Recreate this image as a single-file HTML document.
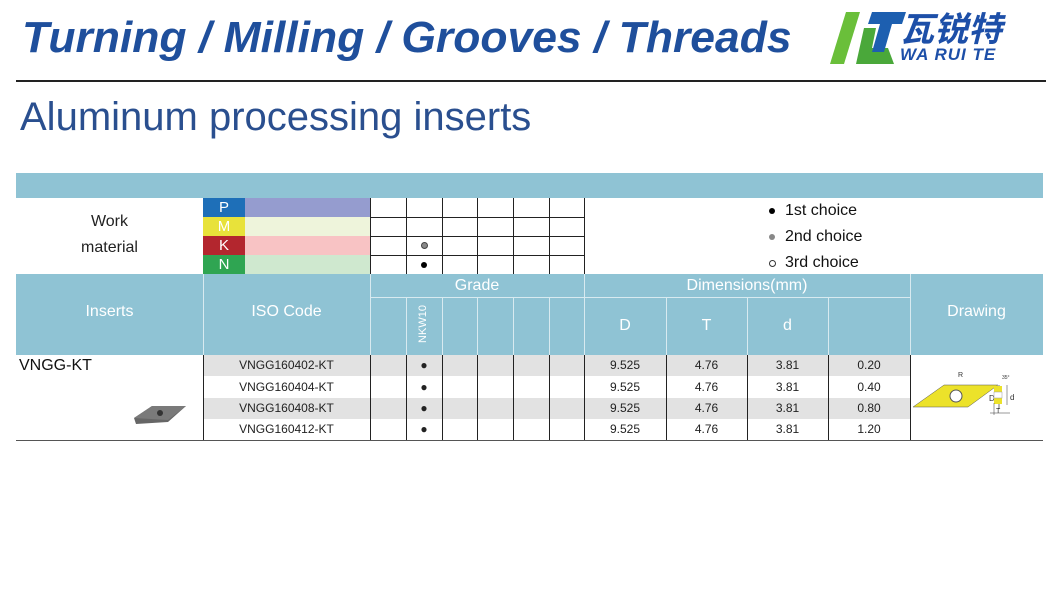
<!DOCTYPE html>
<html><head><style>
body{margin:0;width:1060px;height:600px;background:#fff;position:relative;overflow:hidden;font-family:"Liberation Sans",sans-serif}
.a{position:absolute}
.t{position:absolute;text-align:center;font-size:12px;color:#222}
.w{color:#fff;font-size:16px}
.hl{position:absolute;background:#222;height:1px}
.vl{position:absolute;background:#222;width:1px}
.wl{position:absolute;background:#d8eaf0}
.lg div{height:26px;line-height:26px;white-space:nowrap}
</style></head><body>
<div class="a" style="left:22px;top:13px;font-size:44px;font-weight:bold;font-style:italic;color:#1f4f9c;white-space:nowrap;transform:scaleX(1.01);transform-origin:left">Turning / Milling / Grooves / Threads</div>
<!-- logo -->
<svg class="a" style="left:828px;top:10px" width="80" height="56"><polygon points="18,2 32,2 16,54 2,54" fill="#6abf3a"/><polygon points="36,18 48,18 44,38 60,38 66,54 28,54" fill="#4aa83a"/><polygon points="44,2 78,2 74,14 64,14 56,42 44,42 52,14 40,14" fill="#1d5fb0"/></svg>
<div class="a" style="left:900px;top:6px;font-size:34px;font-weight:bold;font-style:italic;color:#1d4fa8;font-family:'Noto Sans CJK SC',sans-serif;line-height:42px">瓦锐特</div>
<div class="a" style="left:900px;top:45px;font-size:17px;font-weight:bold;font-style:italic;color:#1d4fa8;letter-spacing:1px">WA RUI TE</div>
<div class="a" style="left:16px;top:80px;width:1030px;height:2px;background:#222"></div>
<div class="a" style="left:20px;top:95px;font-size:40px;color:#2a4f8f;white-space:nowrap">Aluminum processing inserts</div>

<!-- table -->
<div class="a" style="left:16px;top:173px;width:1027px;height:25px;background:#8fc3d4"></div>
<div class="t" style="left:16px;top:209px;width:187px;font-size:16px;line-height:26px">Work<br>material</div>
<div class="a" style="left:203px;top:198px;width:42px;height:19px;background:#1e6fb8"></div>
<div class="a" style="left:203px;top:217px;width:42px;height:19px;background:#e8e23a"></div>
<div class="a" style="left:203px;top:236px;width:42px;height:19px;background:#b3262e"></div>
<div class="a" style="left:203px;top:255px;width:42px;height:19px;background:#2fa552"></div>
<div class="t w" style="left:203px;top:199px;width:42px;font-size:15px">P</div>
<div class="t w" style="left:203px;top:218px;width:42px;font-size:15px">M</div>
<div class="t w" style="left:203px;top:237px;width:42px;font-size:15px">K</div>
<div class="t w" style="left:203px;top:256px;width:42px;font-size:15px">N</div>
<div class="a" style="left:245px;top:198px;width:125px;height:19px;background:#959ccf"></div>
<div class="a" style="left:245px;top:217px;width:125px;height:19px;background:#eef4db"></div>
<div class="a" style="left:245px;top:236px;width:125px;height:19px;background:#f8c3c4"></div>
<div class="a" style="left:245px;top:255px;width:125px;height:19px;background:#cfe8cf"></div>
<div class="hl" style="left:370px;top:217px;width:214px"></div>
<div class="hl" style="left:370px;top:236px;width:214px"></div>
<div class="hl" style="left:370px;top:255px;width:214px"></div>
<div class="vl" style="left:370px;top:198px;height:76px"></div>
<div class="vl" style="left:406px;top:198px;height:76px"></div>
<div class="vl" style="left:442px;top:198px;height:76px"></div>
<div class="vl" style="left:477px;top:198px;height:76px"></div>
<div class="vl" style="left:513px;top:198px;height:76px"></div>
<div class="vl" style="left:549px;top:198px;height:76px"></div>
<div class="vl" style="left:584px;top:198px;height:76px"></div>
<div class="a" style="left:421px;top:242px;width:5px;height:5px;border-radius:50%;background:#888;border:1px solid #444"></div>
<div class="a" style="left:421px;top:262px;width:6px;height:6px;border-radius:50%;background:#000"></div>
<div class="a" style="left:769px;top:208px;width:6px;height:6px;border-radius:50%;background:#000"></div>
<div class="a" style="left:769px;top:234px;width:6px;height:6px;border-radius:50%;background:#888"></div>
<div class="a" style="left:769px;top:260px;width:5px;height:5px;border-radius:50%;border:1px solid #333"></div>
<div class="a lg" style="left:785px;top:198px;font-size:16px;color:#111">
<div>1st choice</div><div>2nd choice</div><div>3rd choice</div></div>

<div class="a" style="left:16px;top:274px;width:1027px;height:81px;background:#8fc3d4"></div>
<div class="wl" style="left:203px;top:274px;width:1px;height:81px"></div>
<div class="wl" style="left:370px;top:274px;width:1px;height:81px"></div>
<div class="wl" style="left:584px;top:274px;width:1px;height:81px"></div>
<div class="wl" style="left:910px;top:274px;width:1px;height:81px"></div>
<div class="wl" style="left:370px;top:297px;width:540px;height:1px"></div>
<div class="wl" style="left:406px;top:297px;width:1px;height:58px"></div>
<div class="wl" style="left:442px;top:297px;width:1px;height:58px"></div>
<div class="wl" style="left:477px;top:297px;width:1px;height:58px"></div>
<div class="wl" style="left:513px;top:297px;width:1px;height:58px"></div>
<div class="wl" style="left:549px;top:297px;width:1px;height:58px"></div>
<div class="wl" style="left:666px;top:297px;width:1px;height:58px"></div>
<div class="wl" style="left:747px;top:297px;width:1px;height:58px"></div>
<div class="wl" style="left:828px;top:297px;width:1px;height:58px"></div>
<div class="t w" style="left:16px;top:303px;width:187px">Inserts</div>
<div class="t w" style="left:203px;top:303px;width:167px">ISO Code</div>
<div class="t w" style="left:370px;top:277px;width:214px">Grade</div>
<div class="t w" style="left:584px;top:277px;width:326px">Dimensions(mm)</div>
<div class="t w" style="left:910px;top:303px;width:133px">Drawing</div>
<div class="t w" style="left:584px;top:317px;width:82px">D</div>
<div class="t w" style="left:666px;top:317px;width:81px">T</div>
<div class="t w" style="left:747px;top:317px;width:81px">d</div>
<div class="a" style="left:404px;top:318px;color:#fff;font-size:11px;transform:rotate(-90deg)">NKW10</div>

<div class="a" style="left:203px;top:355px;width:707px;height:21px;background:#e2e2e2"></div>
<div class="a" style="left:203px;top:398px;width:707px;height:21px;background:#e2e2e2"></div>
<div class="vl" style="left:203px;top:355px;height:85px"></div>
<div class="vl" style="left:370px;top:355px;height:85px"></div>
<div class="vl" style="left:406px;top:355px;height:85px"></div>
<div class="vl" style="left:442px;top:355px;height:85px"></div>
<div class="vl" style="left:477px;top:355px;height:85px"></div>
<div class="vl" style="left:513px;top:355px;height:85px"></div>
<div class="vl" style="left:549px;top:355px;height:85px"></div>
<div class="vl" style="left:584px;top:355px;height:85px"></div>
<div class="vl" style="left:666px;top:355px;height:85px"></div>
<div class="vl" style="left:747px;top:355px;height:85px"></div>
<div class="vl" style="left:828px;top:355px;height:85px"></div>
<div class="vl" style="left:910px;top:355px;height:85px"></div>
<div class="hl" style="left:16px;top:440px;width:1027px;background:#555"></div>
<div class="a" style="left:19px;top:357px;font-size:16px;color:#111">VNGG-KT</div>
<svg class="a" style="left:130px;top:402px" width="60" height="24"><polygon points="4,16 22,4 56,4 38,20 6,22" fill="#666"/><polygon points="4,16 22,4 56,4 38,18" fill="#7a7a7a"/><circle cx="30" cy="11" r="3" fill="#333"/></svg>
<div class="a" style="left:203px;top:355px;width:707px;font-size:12px;color:#222">
<div style="display:flex;height:21px;line-height:21px"><span style="width:167px;text-align:center">VNGG160402-KT</span><span style="width:36px"></span><span style="width:36px;text-align:center">●</span><span style="width:142px"></span><span style="width:82px;text-align:center">9.525</span><span style="width:81px;text-align:center">4.76</span><span style="width:81px;text-align:center">3.81</span><span style="width:82px;text-align:center">0.20</span></div>
<div style="display:flex;height:22px;line-height:22px"><span style="width:167px;text-align:center">VNGG160404-KT</span><span style="width:36px"></span><span style="width:36px;text-align:center">●</span><span style="width:142px"></span><span style="width:82px;text-align:center">9.525</span><span style="width:81px;text-align:center">4.76</span><span style="width:81px;text-align:center">3.81</span><span style="width:82px;text-align:center">0.40</span></div>
<div style="display:flex;height:21px;line-height:21px"><span style="width:167px;text-align:center">VNGG160408-KT</span><span style="width:36px"></span><span style="width:36px;text-align:center">●</span><span style="width:142px"></span><span style="width:82px;text-align:center">9.525</span><span style="width:81px;text-align:center">4.76</span><span style="width:81px;text-align:center">3.81</span><span style="width:82px;text-align:center">0.80</span></div>
<div style="display:flex;height:21px;line-height:21px"><span style="width:167px;text-align:center">VNGG160412-KT</span><span style="width:36px"></span><span style="width:36px;text-align:center">●</span><span style="width:142px"></span><span style="width:82px;text-align:center">9.525</span><span style="width:81px;text-align:center">4.76</span><span style="width:81px;text-align:center">3.81</span><span style="width:82px;text-align:center">1.20</span></div>
</div>
<svg class="a" style="left:910px;top:365px" width="133" height="60" font-family="Liberation Sans"><polygon points="3,42 34,20 88,20 58,42" fill="#ece22a" stroke="#555" stroke-width="0.5"/><circle cx="46" cy="31" r="6" fill="#fff" stroke="#555"/><line x1="89" y1="20" x2="89" y2="44" stroke="#333" stroke-width="0.7"/><text x="79" y="36" font-size="8" fill="#333">D</text><text x="48" y="12" font-size="7" fill="#333">R</text><text x="92" y="14" font-size="5" fill="#333">35°</text><rect x="84" y="21" width="8" height="6" fill="#ece22a"/><rect x="84" y="33" width="8" height="6" fill="#ece22a"/><rect x="84" y="27" width="8" height="6" fill="#fff" stroke="#999" stroke-width="0.5"/><line x1="84" y1="38" x2="84" y2="50" stroke="#333" stroke-width="0.5"/><line x1="80" y1="48" x2="100" y2="48" stroke="#333" stroke-width="0.5"/><text x="86" y="48" font-size="7" fill="#333">T</text><line x1="97" y1="20" x2="97" y2="40" stroke="#333" stroke-width="0.5"/><text x="100" y="35" font-size="8" fill="#333">d</text></svg>
</body></html>
